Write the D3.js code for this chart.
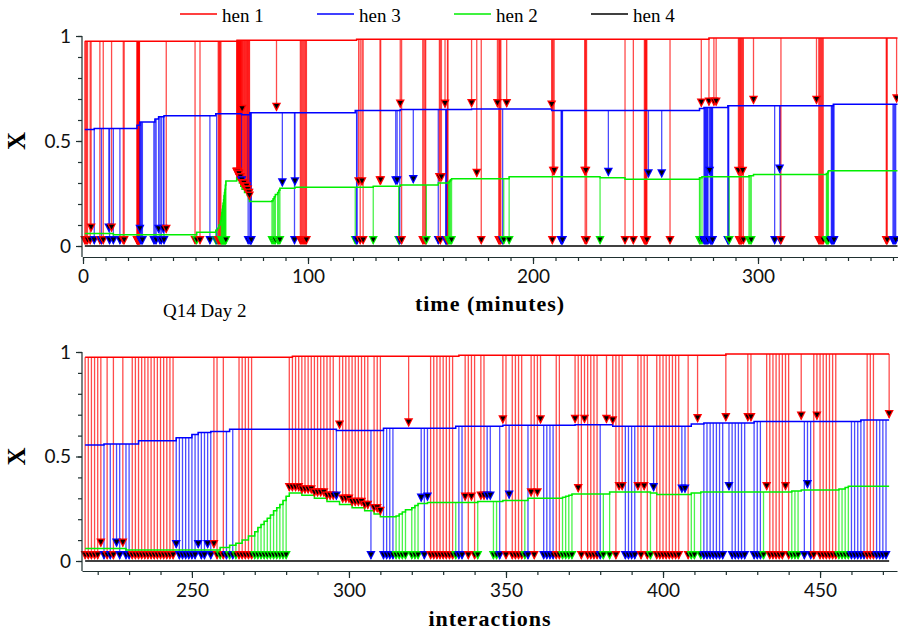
<!DOCTYPE html>
<html>
<head>
<meta charset="utf-8">
<script src="https://cdn.jsdelivr.net/npm/d3@7"></script>
<style>
  body { margin: 0; background: #fff; }
</style>
</head>
<body>
<div class="vis-hens"></div>
<script>
// interaction numbers continue from day 1, first one of this day is 216
const firstInteraction = 216;

// attacker + target for every interaction ("14" = hen 1 pecks hen 4)
const eventCodes = [
  "14","14","14","14","14","12","34","14","34","14",
  "32","34","12","34","34","14","14","14","14","14",
  "14","14","14","14","14","14","14","14","14","32",
  "34","34","34","34","34","34","32","34","34","32",
  "34","12","14","24","14","34","24","34","24","14",
  "14","14","14","14","24","24","24","24","24","24",
  "24","24","24","24","24","12","12","12","12","12",
  "12","12","12","12","12","12","12","12","12","12",
  "32","13","12","12","12","12","12","12","12","12",
  "12","34","12","12","12","34","34","34","34","24",
  "24","24","24","13","24","24","24","32","34","32",
  "14","14","14","14","14","14","14","14","24","34",
  "34","12","14","12","14","24","12","12","32","32",
  "24","24","34","13","14","32","14","14","14","14",
  "24","34","12","14","12","13","34","34","34","34",
  "14","14","24","24","24","24","13","12","14","13",
  "14","14","14","14","34","24","13","24","13","14",
  "12","12","34","34","34","34","12","14","12","14",
  "24","32","14","14","14","14","14","14","14","14",
  "32","32","14","24","24","13","24","34","34","34",
  "34","34","34","34","13","32","34","34","34","34",
  "34","13","13","34","34","34","24","12","14","14",
  "14","14","14","12","14","24","24","24","13","34",
  "32","34","14","13","14","14","14","14","14","14",
  "24","24","24","24","34","34","34","34","34","14",
  "14","14","34","34","34","34","13"
];

// time of each interaction (minutes)
const eventTimes = [
  0.8, 1.2, 1.6, 2.0, 3.2, 3.6, 5.0, 7.5, 8.2, 9.0,
  11.5, 11.8, 12.7, 13.5, 16.4, 17.9, 18.3, 24.0, 24.1, 24.2,
  24.3, 24.4, 24.5, 24.6, 24.7, 24.8, 24.9, 25.0, 25.1, 25.3,
  25.6, 26.0, 26.4, 31.5, 32.0, 32.5, 33.6, 34.2, 34.8, 35.7,
  36.0, 37.0, 49.8, 50.5, 52.0, 56.4, 59.0, 59.4, 59.8, 60.1,
  60.4, 60.7, 61.0, 61.3, 61.5, 61.7, 61.9, 62.1, 62.3, 62.5,
  62.7, 62.9, 63.1, 63.3, 63.5, 68.3, 68.45, 68.6, 68.75, 68.9,
  69.05, 69.2, 69.35, 69.5, 69.65, 69.8, 69.95, 70.1, 70.25, 70.4,
  70.55, 70.7, 70.9, 71.2, 71.5, 71.8, 72.1, 72.4, 72.7, 73.0,
  73.2, 73.4, 73.6, 73.8, 74.0, 74.2, 74.4, 74.6, 74.8, 84.0,
  84.5, 85.0, 85.5, 86.0, 86.5, 87.0, 87.5, 88.6, 94.0, 94.2,
  96.6, 97.0, 97.4, 97.8, 98.2, 98.6, 99.0, 99.3, 121.0, 121.6,
  121.8, 122.5, 123.2, 124.0, 124.5, 129.0, 132.0, 132.3, 139.0, 139.6,
  140.3, 140.6, 140.8, 141.0, 141.6, 146.8, 151.0, 151.5, 152.0, 152.3,
  152.6, 157.9, 158.4, 158.8, 159.3, 160.9, 161.2, 161.4, 161.6, 161.8,
  162.0, 162.2, 162.5, 162.9, 163.3, 163.8, 172.7, 175.0, 177.0, 184.2,
  184.8, 185.1, 185.4, 185.7, 186.5, 187.0, 188.3, 189.4, 208.3, 208.6,
  209.0, 209.4, 212.5, 212.7, 212.9, 213.1, 223.0, 223.2, 223.5, 223.8,
  229.8, 233.5, 240.9, 244.6, 249.5, 249.8, 250.0, 250.2, 250.4, 250.6,
  251.3, 257.2, 260.9, 274.0, 274.3, 274.8, 275.1, 276.0, 276.3, 276.6,
  276.9, 277.2, 277.5, 277.8, 278.2, 278.5, 278.8, 279.1, 279.4, 279.6,
  279.8, 280.4, 281.4, 286.6, 286.8, 287.0, 287.2, 291.3, 291.6, 291.9,
  292.2, 292.5, 292.8, 293.2, 293.5, 296.0, 296.5, 297.0, 298.0, 307.4,
  309.6, 309.9, 310.2, 326.0, 327.0, 327.4, 327.8, 328.2, 328.6, 329.0,
  330.4, 330.7, 331.0, 331.3, 332.6, 332.9, 333.2, 333.5, 333.8, 357.0,
  357.2, 357.4, 360.0, 360.4, 360.8, 361.2, 361.6
];

// X of each hen: [interaction from which it holds, value]
const hen1Steps = [[216, 0.975], [282, 0.98], [335, 0.985], [420, 0.99]];
const hen3Steps = [[216, 0.555], [222, 0.56], [233, 0.575], [245, 0.59], [250, 0.605],
  [252, 0.615], [256, 0.62], [262, 0.63], [296, 0.625], [311, 0.635], [334, 0.645],
  [349, 0.65], [372, 0.652], [384, 0.645], [409, 0.655], [413, 0.66], [429, 0.668], [463, 0.675]];
const hen2Steps = [[216, 0.06], [229, 0.053], [259, 0.065], [262, 0.075], [264, 0.085],
  [266, 0.1], [268, 0.12], [270, 0.14], [271, 0.16], [272, 0.175], [273, 0.19], [274, 0.205],
  [275, 0.22], [276, 0.24], [277, 0.255], [278, 0.27], [279, 0.29], [280, 0.31], [281, 0.325],
  [285, 0.315], [289, 0.3], [293, 0.285], [297, 0.27], [301, 0.255], [305, 0.24], [308, 0.225],
  [310, 0.212], [315, 0.215], [316, 0.225], [317, 0.235], [318, 0.245], [320, 0.255],
  [321, 0.265], [322, 0.275], [325, 0.28], [341, 0.285], [349, 0.29], [357, 0.3], [368, 0.305],
  [369, 0.31], [370, 0.315], [371, 0.32], [383, 0.33], [396, 0.325], [398, 0.318], [409, 0.325],
  [412, 0.33], [441, 0.335], [444, 0.34], [456, 0.345], [458, 0.352], [459, 0.358]];
const hen4Steps = [[216, 0]];

const legendNames = ["hen 1", "hen 3", "hen 2", "hen 4"];
const legendHens = [1, 3, 2, 4];
const timeTicks = [0, 100, 200, 300];
const interactionTicks = [250, 300, 350, 400, 450];
const xLabelTicks = [0, 0.5, 1];

const henColor = { 1: "#ff0000", 2: "#00ee00", 3: "#0000ff", 4: "#000000" };
const axisColor = "#1f3030";
const steps = { 1: hen1Steps, 2: hen2Steps, 3: hen3Steps, 4: hen4Steps };

const valueAt = (hen, i) => {
  let v = steps[hen][0][1];
  steps[hen].forEach(s => { if (s[0] <= i) v = s[1]; });
  return v;
};

const events = eventCodes.map((c, k) => ({
  i: firstInteraction + k,
  t: eventTimes[k],
  from: +c[0],
  to: +c[1]
}));

const svg = d3.select(".vis-hens").append("svg")
  .attr("width", 898)
  .attr("height", 633);

// legend
const legend = svg.append("g").selectAll("g").data(legendNames).join("g")
  .attr("transform", (d, k) => "translate(" + (180 + k * 137) + ",0)");
legend.append("line")
  .attr("x1", 0).attr("x2", 37).attr("y1", 14).attr("y2", 14)
  .attr("stroke", (d, k) => henColor[legendHens[k]]).attr("stroke-width", 1.5);
legend.append("text")
  .attr("x", 42).attr("y", 22)
  .attr("font-family", "Liberation Serif").attr("font-size", 19)
  .text(d => d);

function drawPanel(p) {
  const g = svg.append("g");
  const xOf = d => p.x(d[p.key]);

  // pecks: line from the attacker's X down to the target's X
  g.append("g").selectAll("line").data(events).join("line")
    .attr("x1", xOf).attr("x2", xOf)
    .attr("y1", d => p.y(valueAt(d.from, d.i)))
    .attr("y2", d => p.y(valueAt(d.to, d.i)) - 2)
    .attr("stroke", d => henColor[d.from])
    .attr("stroke-width", 1.3)
    .attr("opacity", 0.7);

  [4, 2, 3, 1].forEach(h => {
    const pts = events.map(d => [xOf(d), p.y(valueAt(h, d.i))]);
    if (p.xEnd) pts.push([p.xEnd, pts[pts.length - 1][1]]);
    g.append("path")
      .attr("d", d3.line().curve(d3.curveStepAfter)(pts))
      .attr("fill", "none")
      .attr("stroke", henColor[h])
      .attr("stroke-width", 1.5);
  });

  const tri = g.append("g").selectAll("g").data(events).join("g")
    .attr("transform", d => "translate(" + xOf(d) + "," + (p.y(valueAt(d.to, d.i)) - 1) + ")");
  tri.append("path").attr("d", "M-4.6,-9L4.6,-9L0,0Z").attr("fill", d => henColor[d.from]);
  tri.append("path").attr("d", "M-2.6,-7.6L2.6,-7.6L0,-2.8Z").attr("fill", "#000");

  // x axis
  const xa = g.append("g").attr("transform", "translate(0," + p.axisY + ")");
  xa.append("g").call(d3.axisBottom(p.x).tickValues(p.minor).tickSize(4).tickSizeOuter(0).tickFormat(""));
  xa.append("g").call(d3.axisBottom(p.x).tickValues(p.major).tickSize(7).tickPadding(6))
    .call(a => a.select(".domain").remove());

  // y axis
  const ya = g.append("g").attr("transform", "translate(82,0)");
  ya.append("line").attr("y1", p.y(1)).attr("y2", p.axisY);
  ya.append("g").call(d3.axisLeft(p.y).tickValues(d3.range(0, 1.01, 0.1)).tickSize(4).tickFormat(""))
    .call(a => a.select(".domain").remove());
  ya.append("g").call(d3.axisLeft(p.y).tickValues(xLabelTicks).tickSize(6).tickPadding(5).tickFormat(d3.format("")))
    .call(a => a.select(".domain").remove());

  g.selectAll(".domain, .tick line, line:not([opacity])").attr("stroke", axisColor).attr("stroke-width", 1.2);
  g.selectAll(".tick text").attr("font-family", "Lato").attr("font-size", 19).attr("fill", "#111");

  g.append("text")
    .attr("transform", "translate(25," + p.y(0.5) + ") rotate(-90)")
    .attr("text-anchor", "middle")
    .attr("font-family", "Liberation Serif").attr("font-weight", "bold").attr("font-size", 25)
    .text("X");

  g.append("text")
    .attr("x", 490).attr("y", p.titleY)
    .attr("text-anchor", "middle")
    .attr("font-family", "Liberation Serif").attr("font-weight", "bold").attr("font-size", 22)
    .attr("letter-spacing", 1)
    .text(p.title);
}

drawPanel({
  x: d3.scaleLinear().domain([0, 362]).range([83, 897.5]),
  y: d3.scaleLinear().domain([0, 1]).range([246, 36]),
  key: "t",
  xEnd: 897.5,
  axisY: 257,
  minor: d3.range(0, 361, 10),
  major: timeTicks,
  title: "time (minutes)",
  titleY: 311
});

drawPanel({
  x: d3.scaleLinear().domain([215, 474.5]).range([82, 897]),
  y: d3.scaleLinear().domain([0, 1]).range([561, 352]),
  key: "i",
  axisY: 571,
  minor: d3.range(220, 471, 10),
  major: interactionTicks,
  title: "interactions",
  titleY: 626
});

svg.append("text")
  .attr("x", 163).attr("y", 317)
  .attr("font-family", "Liberation Serif").attr("font-size", 19)
  .text("Q14 Day 2");
</script>
</body>
</html>
